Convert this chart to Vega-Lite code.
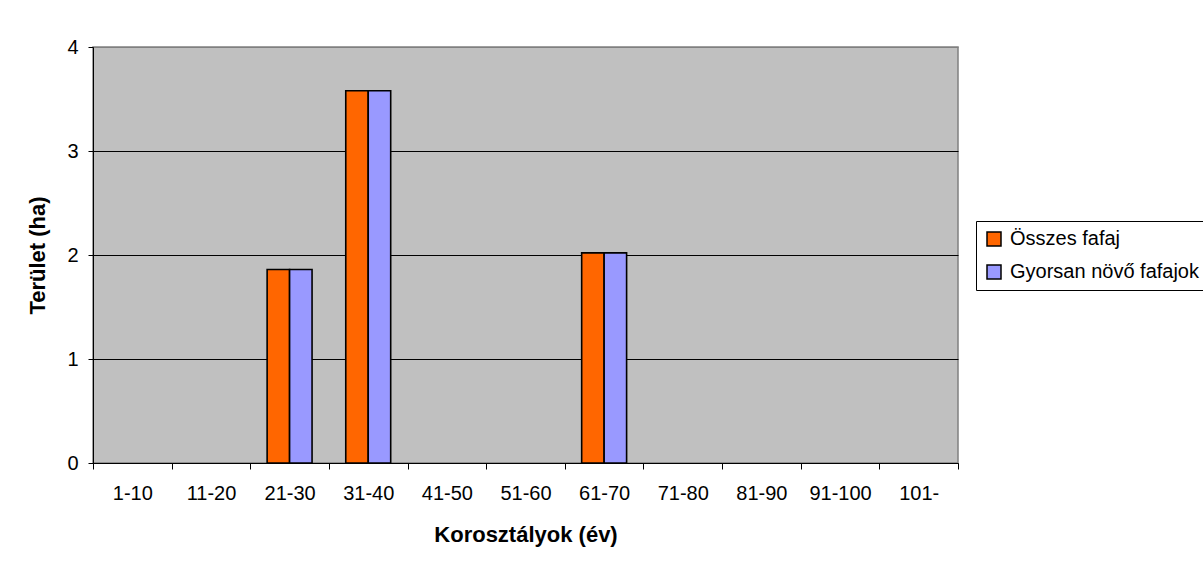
{
  "$schema": "https://vega.github.io/schema/vega-lite/v6.json",
  "width": 865,
  "height": 416,
  "autosize": {"type": "none"},
  "padding": {"left": 93, "top": 47, "right": 245, "bottom": 98},
  "background": "white",
  "config": {
    "font": "Liberation Sans",
    "view": {"fill": "#C0C0C0", "stroke": "#808080", "strokeWidth": 1.5},
    "axis": {
      "labelColor": "black",
      "titleColor": "black",
      "labelFontSize": 20,
      "titleFontSize": 22,
      "titleFontWeight": "bold",
      "domainColor": "black",
      "tickColor": "black",
      "domainWidth": 1,
      "tickWidth": 1
    }
  },
  "data": {
    "values": [
      {"age": "1-10", "series": "Összes fafaj", "value": 0},
      {"age": "1-10", "series": "Gyorsan növő fafajok", "value": 0},
      {"age": "11-20", "series": "Összes fafaj", "value": 0},
      {"age": "11-20", "series": "Gyorsan növő fafajok", "value": 0},
      {"age": "21-30", "series": "Összes fafaj", "value": 1.86},
      {"age": "21-30", "series": "Gyorsan növő fafajok", "value": 1.86},
      {"age": "31-40", "series": "Összes fafaj", "value": 3.58},
      {"age": "31-40", "series": "Gyorsan növő fafajok", "value": 3.58},
      {"age": "41-50", "series": "Összes fafaj", "value": 0},
      {"age": "41-50", "series": "Gyorsan növő fafajok", "value": 0},
      {"age": "51-60", "series": "Összes fafaj", "value": 0},
      {"age": "51-60", "series": "Gyorsan növő fafajok", "value": 0},
      {"age": "61-70", "series": "Összes fafaj", "value": 2.02},
      {"age": "61-70", "series": "Gyorsan növő fafajok", "value": 2.02},
      {"age": "71-80", "series": "Összes fafaj", "value": 0},
      {"age": "71-80", "series": "Gyorsan növő fafajok", "value": 0},
      {"age": "81-90", "series": "Összes fafaj", "value": 0},
      {"age": "81-90", "series": "Gyorsan növő fafajok", "value": 0},
      {"age": "91-100", "series": "Összes fafaj", "value": 0},
      {"age": "91-100", "series": "Gyorsan növő fafajok", "value": 0},
      {"age": "101-", "series": "Összes fafaj", "value": 0},
      {"age": "101-", "series": "Gyorsan növő fafajok", "value": 0}
    ]
  },
  "mark": {"type": "bar", "stroke": "black"},
  "encoding": {
    "x": {
      "field": "age",
      "type": "nominal",
      "sort": ["1-10", "11-20", "21-30", "31-40", "41-50", "51-60", "61-70", "71-80", "81-90", "91-100", "101-"],
      "scale": {"paddingInner": 0, "paddingOuter": 0},
      "axis": {
        "title": "Korosztályok (év)",
        "labelAngle": 0,
        "tickBand": "extent",
        "tickSize": 6,
        "labelPadding": 14,
        "titlePadding": 21,
        "grid": false
      }
    },
    "xOffset": {
      "field": "series",
      "type": "nominal",
      "sort": ["Összes fafaj", "Gyorsan növő fafajok"],
      "scale": {"paddingInner": 0, "paddingOuter": 0.75}
    },
    "y": {
      "field": "value",
      "type": "quantitative",
      "scale": {"domain": [0, 4], "nice": false},
      "axis": {
        "title": "Terület (ha)",
        "values": [0, 1, 2, 3, 4],
        "format": "d",
        "tickSize": 5,
        "labelPadding": 10,
        "titlePadding": 17,
        "grid": true,
        "gridColor": {"condition": {"test": "datum.value === 4", "value": "#808080"}, "value": "black"},
        "gridWidth": 1
      }
    },
    "strokeWidth": {"condition": {"test": "datum.value === 0", "value": 0}, "value": 1.6},
    "color": {
      "field": "series",
      "type": "nominal",
      "sort": ["Összes fafaj", "Gyorsan növő fafajok"],
      "scale": {"domain": ["Összes fafaj", "Gyorsan növő fafajok"], "range": ["#FF6600", "#9999FF"]},
      "legend": {
        "title": null,
        "orient": "none",
        "legendX": 883,
        "legendY": 174,
        "strokeColor": "black",
        "fillColor": "white",
        "padding": 8,
        "rowPadding": 13,
        "symbolType": "square",
        "symbolSize": 196,
        "symbolStrokeColor": "black",
        "symbolStrokeWidth": 1.5,
        "symbolOpacity": 1,
        "labelFontSize": 20,
        "labelColor": "black",
        "labelOffset": 6,
        "labelLimit": 400
      }
    }
  }
}
